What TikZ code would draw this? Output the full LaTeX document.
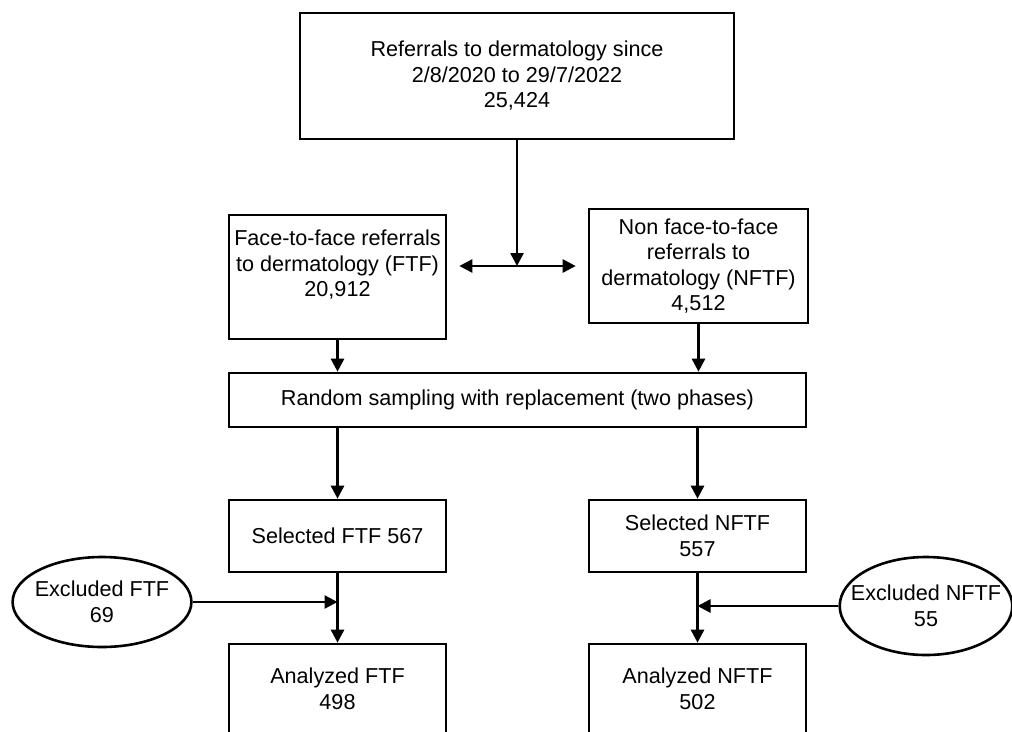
\documentclass[tikz,border=0pt]{standalone}
\usepackage{fontspec}
\setmainfont{Liberation Sans}
\usetikzlibrary{arrows.meta,shapes.geometric}
\begin{document}
\begin{tikzpicture}[x=1pt,y=-1pt,
  every node/.style={font=\fontsize{21.6}{25.5}\selectfont, align=center, inner sep=0pt},
  box/.style={draw, line width=2.6pt, rectangle},
  oval/.style={draw, line width=2.6pt, ellipse},
  arr/.style={line width=2.6pt, -{Triangle[length=13pt,width=13pt]}},
  dbl/.style={line width=2.6pt, {Triangle[length=13pt,width=13pt]}-{Triangle[length=13pt,width=13pt]}}]
\useasboundingbox (0,0) rectangle (1012,731);
\clip (0,0) rectangle (1012,731);
\node[box, minimum width=434pt, minimum height=126pt] (top) at (517,76)
  {Referrals to dermatology since\\2/8/2020 to 29/7/2022\\25,424};
\node[box, minimum width=217pt, minimum height=124pt] (ftf) at (337.5,277)
  {Face-to-face referrals\\to dermatology (FTF)\\20,912\\[2pt]};
\node[box, minimum width=219pt, minimum height=114pt] (nftf) at (698.5,266)
  {Non face-to-face\\referrals to\\dermatology (NFTF)\\4,512};
\node[box, minimum width=577pt, minimum height=54pt] (rand) at (517.5,400)
  {Random sampling with replacement (two phases)};
\node[box, minimum width=217pt, minimum height=72pt] (selftf) at (337.5,536)
  {Selected FTF 567};
\node[box, minimum width=217pt, minimum height=72pt] (selnftf) at (697.5,536)
  {Selected NFTF\\557};
\node[box, minimum width=217pt, minimum height=90pt] (anftf) at (337.5,689)
  {Analyzed FTF\\498};
\node[box, minimum width=217pt, minimum height=90pt] (annftf) at (697.5,689)
  {Analyzed NFTF\\502};
\node[oval, inner xsep=-4pt, minimum height=90pt] (exftf) at (102,602)
  {Excluded FTF\\69};
\node[oval, inner xsep=-14pt, minimum height=98pt] (exnftf) at (926,606)
  {Excluded NFTF\\55};
\coordinate (j) at (517,266);
\draw[arr] (top.south) -- (j);
\draw[dbl, shorten <=12pt, shorten >=12pt] (ftf.east |- j) -- (nftf.west |- j);
\draw[arr] (ftf.south) -- (ftf.south |- rand.north);
\draw[arr] (nftf.south) -- (nftf.south |- rand.north);
\draw[arr] (rand.south -| selftf.north) -- (selftf.north);
\draw[arr] (rand.south -| selnftf.north) -- (selnftf.north);
\draw[arr] (selftf.south) -- (anftf.north);
\draw[arr] (selnftf.south) -- (annftf.north);
\draw[arr] (exftf.east) -- (exftf.east -| selftf.south);
\draw[arr] (exnftf.west) -- (exnftf.west -| selnftf.south);
\end{tikzpicture}
\end{document}
